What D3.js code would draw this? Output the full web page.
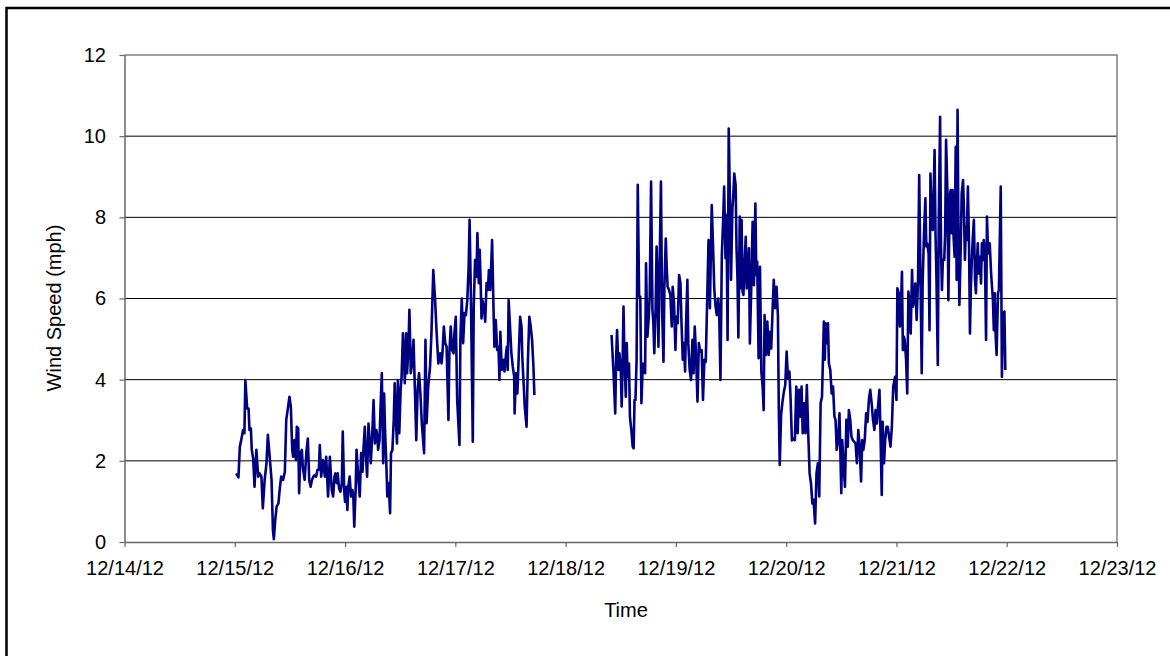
<!DOCTYPE html>
<html><head><meta charset="utf-8">
<script src="https://cdn.jsdelivr.net/npm/d3@7"></script>
<style>
html,body{margin:0;padding:0;background:#fff;}
svg{display:block;font-family:"Liberation Sans",Arial,sans-serif;}
</style>
</head><body>
<svg id="chart" width="1170" height="656"></svg>
<script>
// Hours since 12/15/12 00:00 and wind speed (mph)
const seriesStart = new Date(2012, 11, 15);
const seg1 = [
[0.3,1.69],[0.8,1.59],[1.1,2.35],[1.4,2.51],[1.8,2.76],[2.1,2.68],[2.3,3.99],[2.7,3.29],[3.0,3.29],[3.2,2.76],
[3.5,2.80],[3.7,2.27],[4.0,2.06],[4.3,1.36],[4.7,2.27],[5.1,1.61],[5.4,1.69],[5.8,1.61],[6.1,0.83],[6.5,1.53],
[6.9,1.94],[7.2,2.64],[7.6,2.10],[8.0,1.53],[8.3,0.30],[8.5,0.07],[8.8,0.54],[9.1,0.87],[9.5,0.95],[9.8,1.32],
[10.1,1.61],[10.5,1.53],[10.9,1.73],[11.2,3.01],[11.6,3.33],[11.9,3.58],[12.2,3.33],[12.5,2.27],[12.7,2.10],[13.0,2.51],
[13.3,2.02],[13.5,2.84],[13.8,2.80],[14.0,1.20],[14.3,2.18],[14.6,2.27],[14.8,1.86],[15.2,1.53],[15.6,2.23],[15.9,2.55],
[16.2,1.53],[16.5,1.36],[16.8,1.53],[17.1,1.61],[17.4,1.65],[17.7,1.61],[18.0,1.78],[18.3,1.78],[18.5,2.39],[18.8,1.61],
[19.2,2.02],[19.6,1.61],[19.9,2.10],[20.3,1.12],
[20.7,2.10],[21.1,1.28],[21.4,1.12],[21.7,1.61],[21.9,1.69],[22.2,1.45],[22.4,1.69],[22.7,1.32],[23.0,1.24],[23.3,1.45],
[23.5,2.72],[23.8,1.28],[24.0,0.99],[24.3,1.36],[24.5,0.79],[24.7,1.36],[25.0,1.61],[25.3,1.12],[25.6,1.28],[25.8,1.12],
[26.0,0.38],[26.3,1.28],[26.5,2.27],[26.9,1.53],[27.2,1.12],[27.5,2.19],[27.8,1.73],[28.0,2.27],[28.3,2.84],[28.5,2.19],
[28.8,1.61],[29.1,2.92],[29.4,2.43],[29.6,1.94],[29.9,2.60],[30.2,3.50],[30.5,2.43],[30.8,2.76],[31.0,2.64],[31.2,2.27],
[31.5,2.51],[31.7,3.25],[32.0,4.16],[32.3,1.94],[32.5,3.66],[32.7,2.76],[33.0,1.86],[33.2,1.12],[33.5,1.45],[33.8,0.71],
[34.0,2.19],[34.3,2.27],[34.6,3.01],[34.8,3.91],[35.1,2.92],[35.3,2.43],[35.5,3.99],[35.8,2.68],[36.1,3.75],[36.3,4.07],
[36.6,5.14],[36.8,4.65],[37.0,3.91],[37.3,5.14],[37.5,4.16],[37.8,4.81],[38.0,5.72],[38.2,4.81],[38.3,4.16],[38.6,4.40],
[38.9,4.98],[39.2,3.75],[39.5,2.51],[39.8,3.75],[40.1,4.16],[40.4,3.66],[40.7,2.92],
[41.2,2.19],[41.5,4.98],[41.75,2.93],[42.1,3.83],[42.5,4.32],[42.8,5.14],[43.2,6.70],[43.6,5.96],[43.9,5.22],[44.3,4.40],
[44.7,4.65],[45.0,4.40],[45.2,4.65],[45.5,5.31],[45.8,4.90],[46.1,4.81],[46.5,3.01],[46.7,4.65],[47.0,5.31],[47.3,4.73],
[47.6,4.65],[47.8,5.14],[48.1,5.55],[48.4,3.50],[48.9,2.39],[49.1,4.98],[49.4,6.00],[49.7,4.90],[50.0,5.64],[50.3,5.59],
[50.6,5.96],[50.9,6.79],[51.1,7.94],[51.4,5.96],[51.8,2.47],[52.0,5.80],[52.3,6.95],[52.6,6.54],[52.8,7.61],[53.1,6.38],
[53.3,7.20],[53.5,6.46],[53.7,5.51],[53.9,5.96],[54.2,5.80],[54.5,5.43],[54.8,6.38],[55.1,6.21],[55.3,6.70],[55.6,6.21],
[55.8,6.79],[56.0,7.44],[56.3,5.80],[56.5,4.81],[56.8,5.47],[57.1,4.73],[57.4,4.81],[57.6,3.99],[57.8,5.18],[58.1,4.24],
[58.4,4.49],[58.7,4.20],[58.9,4.49],[59.2,4.81],[59.4,4.24],[59.6,5.96],[59.9,5.31],[60.2,4.65],[60.5,4.32],[60.8,4.08],
[60.9,3.17],[61.2,4.16],[61.5,3.66],[61.8,4.57],[62.1,5.55],[62.4,5.31],[62.6,4.49],[62.9,3.83],[63.1,3.34],[63.5,2.84],
[63.8,4.49],[64.1,5.55],[64.4,5.31],[64.7,4.98],[65.0,4.32],[65.2,3.62]
];
const seg2 = [
[82.0,5.10],[82.4,4.24],[82.8,3.17],[83.0,4.57],[83.2,5.22],[83.5,4.24],[83.7,4.65],[84.0,4.32],[84.2,3.34],[84.4,4.40],
[84.6,5.80],[84.8,4.57],[85.1,3.58],[85.3,4.90],[85.5,4.07],[85.8,4.40],[86.0,3.09],[86.3,2.76],[86.6,2.35],[86.8,2.31],
[87.0,3.50],[87.2,3.50],[87.45,4.49],[87.7,8.80],[88.0,6.05],[88.25,6.05],[88.5,3.42],[88.8,4.40],[89.0,4.24],[89.3,4.16],
[89.5,6.87],[89.8,5.06],[90.1,5.55],[90.3,6.05],[90.6,8.88],[90.9,5.72],[91.1,5.39],[91.3,4.65],[91.6,5.80],[91.8,7.28],
[92.0,6.37],[92.2,4.81],[92.5,7.11],[92.75,8.88],[93.0,5.72],[93.3,4.44],[93.5,6.29],[93.8,7.48],[94.0,6.79],[94.2,6.29],
[94.5,6.21],[94.8,6.09],[95.1,5.31],[95.3,6.29],[95.6,5.88],[95.9,4.73],[96.1,5.55],[96.4,5.39],[96.7,6.58],[97.0,6.37],
[97.2,5.47],[97.5,4.49],[97.75,4.90],[98.0,4.20],[98.2,5.31],[98.5,6.46],[98.7,4.90],[99.0,4.24],[99.3,3.99],[99.6,4.98],
[99.85,4.16],[100.1,5.31],[100.4,4.57],[100.7,3.46],[101.0,4.90],[101.3,4.69],[101.6,4.73],[101.9,3.50],[102.2,4.49],
[102.5,4.44],[102.8,5.92],[103.1,7.44],[103.4,5.76],[103.8,8.30],[104.1,7.24],[104.35,6.25],[104.6,5.84],[104.9,5.59],[105.2,6.00],
[105.4,5.76],[105.7,3.99],[106.0,7.07],[106.3,7.98],[106.5,8.76],[106.8,6.99],[107.0,8.06],[107.25,4.98],[107.5,10.19],[107.8,8.14],
[108.0,6.46],[108.3,8.22],[108.5,8.55],[108.7,9.08],[109.0,8.80],[109.2,7.24],[109.4,6.50],[109.6,5.04],[109.9,8.02],[110.1,6.25],
[110.3,7.93],[110.5,6.17],[110.7,6.09],[110.95,6.91],[111.2,7.52],[111.4,6.25],[111.6,6.66],[111.9,7.24],[112.1,4.89],[112.4,6.25],
[112.7,7.89],[112.98,6.33],[113.3,8.34],[113.5,6.58],[113.7,6.91],[114.0,4.53],[114.3,6.78],[114.6,4.20],[114.9,3.79],[115.1,3.25],
[115.3,5.59],[115.6,4.61],[115.9,5.43],[116.2,4.61],[116.5,5.18],[116.75,4.77],[117.0,5.59],[117.3,6.46],[117.6,5.76],[117.9,6.29],
[118.2,5.59],[118.4,3.29],[118.6,1.90],[118.9,3.13],[119.2,3.46],[119.5,3.70],[119.8,3.87],[120.1,4.69],[120.4,4.03],[120.7,4.20],
[120.96,3.54],[121.25,2.50],[121.6,2.55],[121.9,2.51],
[122.2,3.83],[122.5,2.68],[122.8,3.75],[123.1,3.09],[123.35,3.83],[123.6,2.68],[123.9,3.42],[124.2,2.68],[124.5,3.87],[124.8,2.68],
[125.1,1.69],[125.4,1.45],[125.7,0.95],[125.95,1.04],[126.3,0.46],[126.6,1.69],[126.9,1.94],[127.2,1.12],[127.5,3.42],[127.8,3.58],
[128.0,4.49],[128.2,5.43],[128.4,4.49],[128.6,5.39],[128.9,4.90],[129.1,5.39],[129.3,4.40],[129.6,4.24],[129.9,3.66],[130.2,3.83],
[130.5,3.09],[130.75,3.01],[131.0,2.27],[131.3,2.51],[131.6,3.17],[132.0,1.20],[132.2,2.51],[132.5,1.86],[132.8,1.36],[133.1,3.01],
[133.4,2.35],[133.65,3.25],[133.95,3.01],[134.2,2.60],[134.5,2.51],[134.8,2.47],[135.1,2.43],[135.4,1.94],[135.7,2.76],[136.0,2.35],
[136.3,1.49],[136.55,2.51],[136.8,2.27],[137.1,2.51],[137.4,3.17],[137.7,2.96],[138.0,3.50],[138.3,3.75],[138.6,3.42],[138.9,3.01],
[139.2,2.76],[139.45,3.25],[139.75,2.92],[140.0,3.34],[140.3,3.75],[140.5,2.84],[140.8,1.16],[141.0,2.96],[141.3,1.94],[141.55,2.51],
[141.85,2.84],[142.1,2.84],[142.4,2.60],[142.7,2.35],[143.0,2.84],[143.3,3.83],
[143.7,4.07],[144.0,3.50],[144.2,6.25],[144.5,6.13],[144.75,5.31],[145.0,5.88],[145.2,6.66],[145.4,4.73],[145.6,5.06],[145.8,4.98],
[146.1,4.48],[146.35,3.66],[146.6,6.17],[146.85,5.88],[147.1,5.14],[147.4,6.70],[147.6,5.80],[147.9,6.05],[148.1,6.37],[148.4,5.47],
[148.7,6.46],[148.95,9.04],[149.2,6.78],[149.5,4.16],[149.7,6.37],[150.0,7.61],[150.3,8.47],[150.5,7.28],[150.7,7.36],[151.0,7.11],
[151.2,5.22],[151.4,9.08],[151.6,8.26],[151.9,7.69],[152.1,8.59],[152.3,9.66],[152.5,7.61],[152.7,6.54],[153.0,4.36],[153.2,7.85],
[153.5,10.48],[153.7,7.28],[153.9,6.21],[154.1,6.95],[154.4,6.95],[154.6,7.61],[154.8,9.91],[155.1,8.59],[155.3,5.96],[155.6,8.51],
[155.8,8.67],[156.0,7.61],[156.2,8.67],[156.4,7.61],[156.65,7.03],[156.9,9.74],[157.1,6.46],[157.3,10.65],[157.5,7.44],[157.7,5.84],
[157.95,7.03],[158.2,8.59],[158.5,8.92],[158.7,8.10],[158.9,6.95],[159.1,7.77],[159.3,7.44],[159.55,8.76],[159.8,7.28],[160.0,5.14],
[160.2,6.29],[160.4,6.95],[160.6,7.44],[160.85,7.94],[161.1,6.46],[161.3,6.13],[161.5,6.87],[161.7,7.36],[161.9,6.62],[162.2,7.03],
[162.4,6.37],[162.6,7.36],[162.8,6.95],[163.0,7.44],[163.25,7.11],[163.5,4.98],[163.7,8.02],[163.9,7.28],[164.1,7.11],[164.3,7.36],
[164.6,6.62],[164.8,6.29],[165.0,5.96],[165.2,5.22],[165.4,6.13],[165.6,5.06],[165.8,4.61],[166.1,6.13],[166.3,6.21],[166.7,8.76],
[166.95,4.07],[167.2,5.64],[167.5,5.68],[167.7,4.24]
];
const yTickValues = [0, 2, 4, 6, 8, 10, 12];
const gridValues = [2, 4, 6, 8, 10];
const xDomain = [new Date(2012, 11, 14), new Date(2012, 11, 23)];
const xTitle = "Time";
const yTitle = "Wind Speed (mph)";

const svg = d3.select("#chart");
svg.append("rect").attr("x",0).attr("y",0).attr("width",1170).attr("height",656).attr("fill","#fff");
// outer chart frame
svg.append("rect").attr("x",6.5).attr("y",8).attr("width",1300).attr("height",800)
  .attr("fill","none").attr("stroke","#000").attr("stroke-width",2.5);

const L = 124.5, R = 1117, T = 55, B = 542;
const x = d3.scaleTime().domain(xDomain).range([L, R]);
const y = d3.scaleLinear().domain([0, 12]).range([B, T]);

// gridlines
svg.append("g").selectAll("line").data(gridValues).join("line")
  .attr("x1", L).attr("x2", R).attr("y1", d => y(d)).attr("y2", d => y(d))
  .attr("stroke", "#000").attr("stroke-width", 1);

// plot border (top / right)
svg.append("path").attr("d", `M${L},${y(12)}H${R}V${B}`)
  .attr("fill","none").attr("stroke","#808080").attr("stroke-width",1.5);

const toPoint = d => ({t: new Date(seriesStart.getTime() + d[0]*3600000), v: d[1]});
const data = seg1.map(toPoint).concat([{t: null, v: null}], seg2.map(toPoint));
const line = d3.line().defined(d => d.v != null).x(d => x(d.t)).y(d => y(d.v));
svg.append("path").datum(data).attr("d", line)
  .attr("fill","none").attr("stroke","#000080").attr("stroke-width",2.6)
  .attr("stroke-linejoin","round");

// axes
const xAxis = d3.axisBottom(x).ticks(d3.timeDay.every(1)).tickFormat(d3.timeFormat("%m/%d/%y"))
  .tickSize(5).tickSizeOuter(0).tickPadding(13.5);
const gx = svg.append("g").attr("transform", `translate(0,${B})`).call(xAxis);
const yAxis = d3.axisLeft(y).tickValues(yTickValues).tickFormat(d3.format("d"))
  .tickSize(5).tickSizeOuter(0).tickPadding(13.5);
const gy = svg.append("g").attr("transform", `translate(${L},0)`).call(yAxis);
[gx, gy].forEach(g => {
  g.select(".domain").attr("stroke","#666").attr("stroke-width",1.5);
  g.selectAll(".tick line").attr("stroke","#666").attr("stroke-width",1.2);
  g.selectAll(".tick text").attr("fill","#000").attr("font-size",20)
    .attr("font-family","'Liberation Sans',Arial,sans-serif");
});

svg.append("text").attr("x", 626).attr("y", 617).attr("text-anchor","middle")
  .attr("font-size",20).attr("fill","#000").text(xTitle);
svg.append("text").attr("transform","translate(61,308) rotate(-90)").attr("text-anchor","middle")
  .attr("font-size",20).attr("fill","#000").text(yTitle);
</script>
</body></html>
